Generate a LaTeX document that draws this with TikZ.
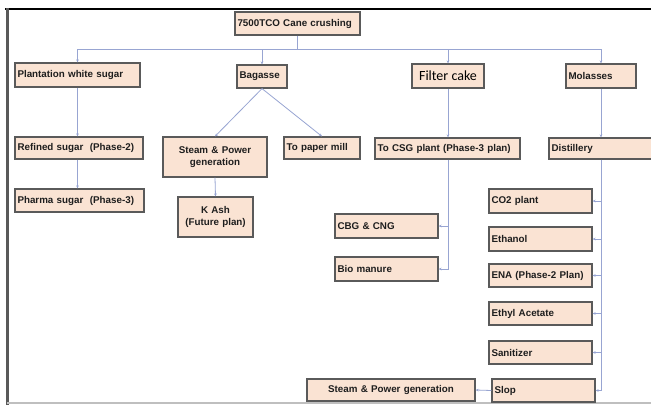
\documentclass[tikz,border=0pt]{standalone}
\usepackage{fontspec}
\setmainfont{Liberation Sans}
\newfontfamily\calib{Carlito}
\usetikzlibrary{arrows.meta}
\definecolor{boxc}{HTML}{FAE3D3}
\definecolor{bordc}{HTML}{5A5A5A}
\definecolor{linec}{HTML}{98A5D2}
\definecolor{txtc}{HTML}{1E1E1E}
\begin{document}
\begin{tikzpicture}[x=1pt,y=-1pt,
  bx/.style={draw=bordc, fill=boxc, line width=1.2pt, text=txtc,
    font=\fontsize{9.8}{11.5}\selectfont\bfseries, inner xsep=2.5pt, inner ysep=0pt, align=left},
  bxc/.style={bx, align=center},
  ln/.style={draw=linec, line width=0.8pt},
  cn/.style={ln, -{Stealth[length=3pt,width=2.6pt]}}]
\useasboundingbox (0,0) rectangle (651,405);
\fill[white] (0,0) rectangle (651,405);
% frame
\draw[line width=2pt, black] (5,8.5) -- (651,8.5);
\draw[line width=2.5pt, black!65] (7.5,8) -- (7.5,405);
\draw[line width=1.2pt, black!25] (7,403) -- (651,403);
% nodes
\node[bx, text width=120pt, minimum height=23pt] (top) at (297.5,23.5) {7500TCO Cane crushing};
\node[bx, text width=120pt, minimum height=24pt] (pws) at (77.5,75) {Plantation white sugar};
\node[bx, text width=45pt, minimum height=23pt] (bag) at (262,76.5) {Bagasse};
\node[draw=bordc, fill=boxc, line width=1.2pt, text=black, font=\calib\fontsize{14}{16}\selectfont,
  minimum width=72pt, minimum height=24pt, inner sep=0pt] (fc) at (448,76) {Filter cake};
\node[bx, text width=65pt, minimum height=24pt] (mol) at (601,76) {Molasses};
\node[bx, text width=123pt, minimum height=22pt] (ref) at (79,148) {Refined sugar\ \ (Phase-2)};
\node[bx, text width=124pt, minimum height=23pt] (pha) at (79.5,200.5) {Pharma sugar\ \ (Phase-3)};
\node[bxc, text width=99pt, minimum height=40pt] (sp1) at (215,157) {Steam \& Power\\generation};
\node[bxc, text width=70pt, minimum height=40pt] (kash) at (215.5,217) {K Ash\\(Future plan)};
\node[bx, text width=71pt, minimum height=22pt] (tpm) at (322,148) {To paper mill};
\node[bx, text width=140pt, minimum height=21pt] (csg) at (447.5,148.5) {To CSG plant (Phase-3 plan)};
\node[bx, text width=101pt, minimum height=21pt] (dist) at (602,148.5) {Distillery};
\node[bx, text width=98pt, minimum height=24pt] (cbg) at (386.5,226) {CBG \& CNG};
\node[bx, text width=98pt, minimum height=24pt] (bio) at (386.5,269) {Bio manure};
\node[bx, text width=98pt, minimum height=24pt] (co2) at (540.5,201) {CO2 plant};
\node[bx, text width=98pt, minimum height=24pt] (eth) at (540.5,239) {Ethanol};
\node[bx, text width=98pt, minimum height=23pt] (ena) at (540.5,275.5) {ENA (Phase-2 Plan)};
\node[bx, text width=98pt, minimum height=23pt] (ea) at (540.5,313.5) {Ethyl Acetate};
\node[bx, text width=98pt, minimum height=23pt] (san) at (540.5,352.5) {Sanitizer};
\node[bx, text width=98pt, minimum height=23pt] (slop) at (543.5,390.5) {Slop};
\node[bxc, text width=163pt, minimum height=22pt] (sp2) at (391,390) {Steam \& Power generation};
% connectors
\coordinate (busL) at (77.5,49);
\coordinate (busR) at (601,49);
\draw[ln] (top.south) -- (top.south |- busL);
\draw[ln] (busL) -- (busR);
\draw[cn] (busL) -- (pws.north);
\draw[cn] (bag.north |- busL) -- (bag.north);
\draw[cn] (fc.north |- busL) -- (fc.north);
\draw[cn] (busR) -- (mol.north);
\draw[cn] (pws.south) -- (pws.south |- ref.north);
\draw[cn] (pws.south |- ref.south) -- (pws.south |- pha.north);
\draw[cn] (bag.south) -- (sp1.north);
\draw[cn] (bag.south) -- (tpm.north);
\draw[cn] (sp1.south) -- (kash.north);
\draw[cn] (fc.south) -- (fc.south |- csg.north);
\draw[cn] (fc.south |- csg.south) |- (bio.east);
\draw[cn] (fc.south |- cbg.east) -- (cbg.east);
\draw[cn] (mol.south) -- (mol.south |- dist.north);
\draw[cn] (mol.south |- dist.south) |- (slop.east);
\draw[cn] (mol.south |- co2.east) -- (co2.east);
\draw[cn] (mol.south |- eth.east) -- (eth.east);
\draw[cn] (mol.south |- ena.east) -- (ena.east);
\draw[cn] (mol.south |- ea.east) -- (ea.east);
\draw[cn] (mol.south |- san.east) -- (san.east);
\draw[cn] (slop.west) -- (sp2.east);
\end{tikzpicture}
\end{document}
